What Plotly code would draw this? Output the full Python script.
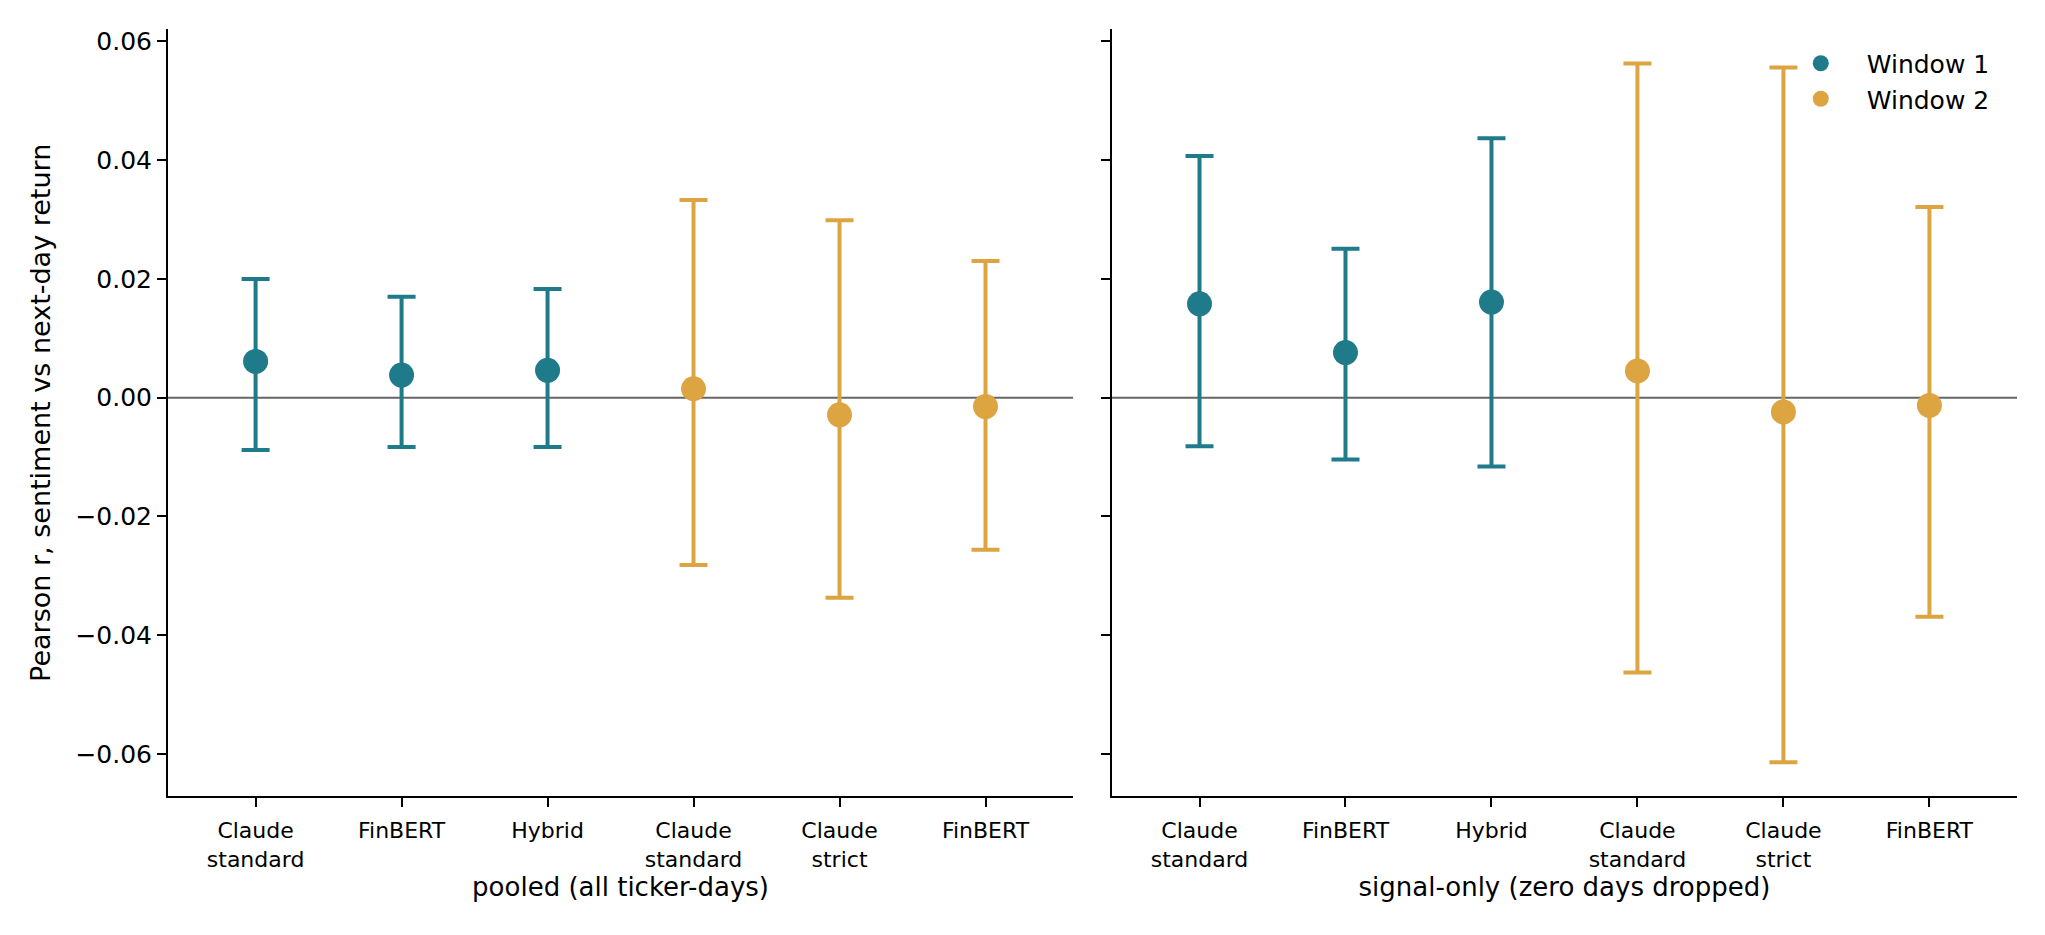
import plotly.graph_objects as go

# sentiment models, window 1 = first three, window 2 = last three
labels = ["Claude<br>standard", "FinBERT", "Hybrid", "Claude<br>standard", "Claude<br>strict", "FinBERT"]
window = [1, 1, 1, 2, 2, 2]

# pooled (all ticker-days)
pooled_r  = [0.0061, 0.0038, 0.0046, 0.0015, -0.0029, -0.0015]
pooled_hi = [0.0200, 0.0170, 0.0183, 0.0333, 0.0299, 0.0230]
pooled_lo = [-0.0088, -0.0083, -0.0083, -0.0282, -0.0337, -0.0256]

# signal-only (zero days dropped)
signal_r  = [0.0158, 0.0076, 0.0161, 0.0045, -0.0024, -0.0013]
signal_hi = [0.0407, 0.0251, 0.0437, 0.0563, 0.0556, 0.0321]
signal_lo = [-0.0082, -0.0104, -0.0116, -0.0463, -0.0614, -0.0369]

panel_titles = ["pooled (all ticker-days)", "signal-only (zero days dropped)"]
ylabel = "Pearson r, sentiment vs next-day return"

TEAL = "#1f7a8a"
GOLD = "#dca542"
colors = {1: TEAL, 2: GOLD}
FONT = "DejaVu Sans"

fig = go.Figure()

panels = [(pooled_r, pooled_hi, pooled_lo), (signal_r, signal_hi, signal_lo)]
for p, (r, hi, lo) in enumerate(panels):
    xa = "x" if p == 0 else "x2"
    ya = "y" if p == 0 else "y2"
    for w in [1, 2]:
        idx = [i for i in range(len(labels)) if window[i] == w]
        fig.add_trace(go.Scatter(
            x=idx,
            y=[r[i] for i in idx],
            mode="markers",
            name="Window " + str(w),
            showlegend=(p == 1),
            marker=dict(color=colors[w], size=25),
            error_y=dict(type="data", symmetric=False,
                         array=[hi[i] - r[i] for i in idx],
                         arrayminus=[r[i] - lo[i] for i in idx],
                         color=colors[w], thickness=4, width=14),
            xaxis=xa, yaxis=ya,
        ))
    # zero reference line
    fig.add_shape(type="line", xref=xa + " domain", yref=ya, x0=0, x1=1, y0=0, y1=0,
                  line=dict(color="#666666", width=2), layer="below")

# y label as annotation so it sits where the original puts it
fig.add_annotation(text=ylabel, xref="paper", yref="paper", x=-0.069, y=0.5,
                   xanchor="center", yanchor="middle", textangle=-90, showarrow=False,
                   font=dict(size=27, color="black"))

xcommon = dict(range=[-0.6, 5.6], tickvals=list(range(len(labels))), ticktext=labels,
               showline=True, linecolor="black", linewidth=2, ticks="outside",
               ticklen=9, tickwidth=2, tickcolor="black", showgrid=False, zeroline=False,
               ticklabelstandoff=5, tickfont=dict(size=22, color="black"))
ycommon = dict(range=[-0.0671, 0.0621], tickvals=[-0.06, -0.04, -0.02, 0, 0.02, 0.04, 0.06],
               tickformat=".2f", showline=True, linecolor="black", linewidth=2,
               ticks="outside", ticklen=9, tickwidth=2, tickcolor="black",
               showgrid=False, zeroline=False, tickfont=dict(size=25, color="black"))

# page body has an 8px margin, so the figure is a bit smaller than the window
fig.update_layout(
    width=2029, height=919,
    margin=dict(l=160, r=20, t=21, b=131),
    paper_bgcolor="white", plot_bgcolor="white",
    font=dict(family=FONT, color="black"),
    xaxis=dict(domain=[0, 0.4895], anchor="y",
               title=dict(text=panel_titles[0], font=dict(size=26), standoff=6), **xcommon),
    xaxis2=dict(domain=[0.5105, 1], anchor="y2",
                title=dict(text=panel_titles[1], font=dict(size=26), standoff=6), **xcommon),
    yaxis=dict(domain=[0, 1], anchor="x", **ycommon),
    yaxis2=dict(domain=[0, 1], anchor="x2", matches="y", showticklabels=False, **ycommon),
    legend=dict(x=0.869, y=0.985, xanchor="left", yanchor="top", bgcolor="rgba(0,0,0,0)",
                font=dict(size=25), itemwidth=82, tracegroupgap=0),
)

fig.write_html("out.html")
